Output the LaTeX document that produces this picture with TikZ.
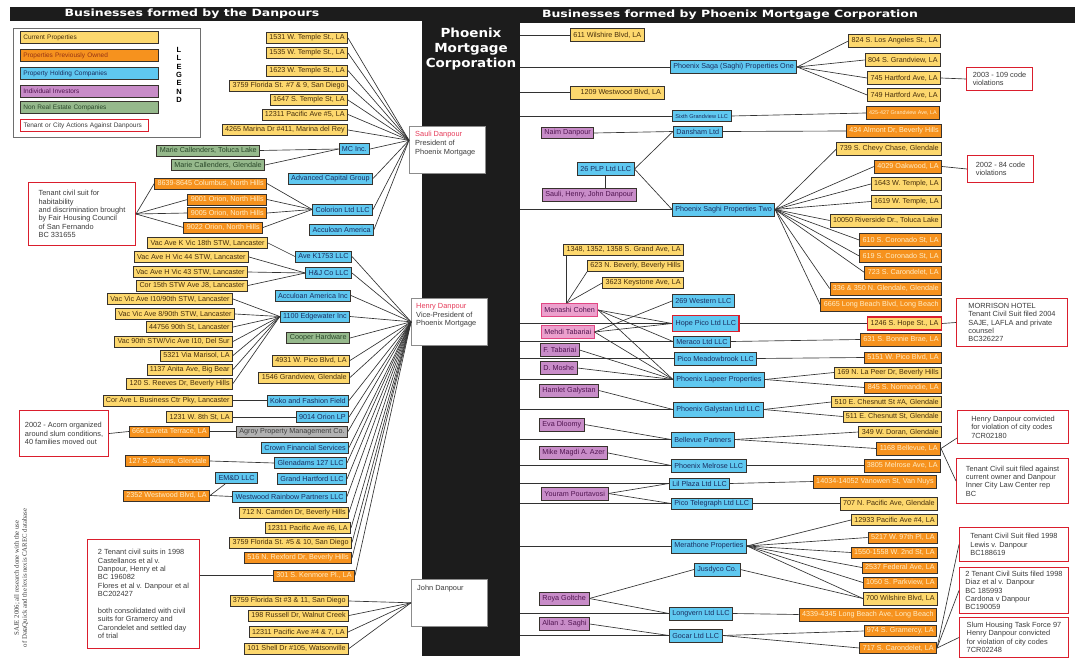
\documentclass[tikz,border=0pt]{standalone}
\usepackage{fontspec}
\setmainfont{Liberation Sans}
\newfontfamily\headfont{DejaVu Sans}[FakeStretch=1.25]
\newfontfamily\colfont{DejaVu Sans}[FakeStretch=1.08]
\newfontfamily\creditfont{Liberation Serif}
\usetikzlibrary{calc}

\definecolor{headblack}{RGB}{28,28,28}
\definecolor{curfill}{RGB}{253,216,110}
\definecolor{curtext}{RGB}{70,45,10}
\definecolor{prevfill}{RGB}{246,146,30}
\definecolor{prevtext}{RGB}{255,238,200}
\definecolor{holdfill}{RGB}{95,200,240}
\definecolor{holdtext}{RGB}{25,45,95}
\definecolor{invfill}{RGB}{200,140,200}
\definecolor{invtext}{RGB}{80,20,80}
\definecolor{pinkfill}{RGB}{236,160,205}
\definecolor{pinkline}{RGB}{225,70,130}
\definecolor{nonrefill}{RGB}{150,185,140}
\definecolor{nonretext}{RGB}{40,70,40}
\definecolor{grayfill}{RGB}{178,178,178}
\definecolor{graytext}{RGB}{60,60,60}
\definecolor{actred}{RGB}{218,30,45}
\definecolor{boxline}{RGB}{55,50,45}
\definecolor{linkgray}{RGB}{50,50,50}
\definecolor{notetext}{RGB}{60,60,60}
\definecolor{legendgray}{RGB}{110,110,110}
\definecolor{personline}{RGB}{140,140,140}
\definecolor{namered}{RGB}{230,60,90}
\definecolor{prevlegend}{RGB}{150,50,20}

\tikzset{
  box/.style={draw=boxline, line width=0.7pt, inner xsep=3pt, inner ysep=0pt,
    minimum height=11pt, font=\fontsize{7.2}{8}\selectfont},
  tall/.style={minimum height=13pt},
  cur/.style={box, fill=curfill, text=curtext},
  prev/.style={box, fill=prevfill, text=prevtext},
  hold/.style={box, fill=holdfill, text=holdtext},
  inv/.style={box, fill=invfill, text=invtext},
  invpink/.style={box, draw=pinkline, fill=pinkfill, text=invtext},
  nonre/.style={box, fill=nonrefill, text=nonretext},
  agency/.style={box, fill=grayfill, text=graytext},
  flagged/.style={draw=actred, line width=1.4pt},
  action/.style={draw=actred, line width=1pt, fill=white, text=notetext, align=left,
    anchor=north west, inner sep=0pt, font=\fontsize{7.4}{8.4}\selectfont},
  person/.style={draw=personline, line width=0.6pt, fill=white, anchor=north west,
    minimum width=76pt, minimum height=47pt, inner sep=0pt},
  persontext/.style={anchor=north west, align=left, text=notetext, inner sep=0pt,
    font=\fontsize{7.4}{8.8}\selectfont},
  link/.style={draw=linkgray, line width=0.65pt},
  pmcolumn/.style={fill=headblack, anchor=north west, minimum width=98pt,
    minimum height=649pt, inner sep=0pt},
  headtext/.style={text=white, inner sep=0pt, font={\headfont\bfseries\fontsize{10}{12}\selectfont}},
  pmctext/.style={text=white, align=center, inner sep=0pt, font={\colfont\bfseries\fontsize{12.5}{15}\selectfont}},
  legendframe/.style={draw=legendgray, line width=1pt, anchor=north west,
    minimum width=187pt, minimum height=109pt, inner sep=0pt},
  legendbox/.style={box, anchor=west, text width=132pt, align=left, minimum height=12pt,
    font=\fontsize{6.5}{8}\selectfont},
  legendletter/.style={inner sep=0pt, font=\bfseries\fontsize{7.5}{8}\selectfont},
  credit/.style={rotate=90, align=center, inner sep=0pt, text=notetext,
    font={\creditfont\fontsize{6.8}{8}\selectfont}},
}

\begin{document}
\begin{tikzpicture}[x=1pt,y=-1pt]
\useasboundingbox (0,0) rectangle (1078,658);
\fill[white] (0,0) rectangle (1078,658);

\fill[headblack] (10,7) rectangle (422,21);
\fill[headblack] (520,7) rectangle (1075,23);
\node[pmcolumn] (pmc) at (422,7) {};
\node[headtext] (lefthead) at (192,14) {Businesses formed by the Danpours};
\node[headtext] (righthead) at (730,15) {Businesses formed by Phoenix Mortgage Corporation};
\node[pmctext] (pmcname) at (471,49) {Phoenix\\Mortgage\\Corporation};

\node[legendframe] (legend) at (13,28) {};
\node[legendbox, fill=curfill, text=curtext] (lgcur) at (20,37.5) {Current Properties};
\node[legendbox, fill=prevfill, text=prevlegend] (lgprev) at (20,55.5) {Properties Previously Owned};
\node[legendbox, fill=holdfill, text=holdtext] (lghold) at (20,73.5) {Property Holding Companies};
\node[legendbox, fill=invfill, text=invtext] (lginv) at (20,91) {Individual Investors};
\node[legendbox, fill=nonrefill, text=nonretext] (lgnonre) at (20,107.5) {Non Real Estate Companies};
\node[legendbox, draw=actred, line width=1pt, fill=white, text=notetext, text width=122pt] (lgact) at (20,125.5) {Tenant or City Actions Against Danpours};
\foreach \ch [count=\i] in {L,L,E,G,E,N,D}
  \node[legendletter] (letter\i) at (179,{50+8.3*(\i-1)}) {\ch};

\node[credit] (source) at (21,578) {SAJE 2006; all research done with the use\\of DataQuick and the lexis nexis CAREC database};

\node[person] (saul) at (409,126) {};
\node[persontext] (saultext) at (415,131) {\textcolor{namered}{Sauli Danpour}\\President of\\Phoenix Mortgage};
\coordinate (saulin) at ([yshift=9.5pt]saul.west);
\node[person] (henry) at (411,298) {};
\node[persontext] (henrytext) at (416,303) {\textcolor{namered}{Henry Danpour}\\Vice-President of\\Phoenix Mortgage};
\node[person] (john) at (411,579) {};
\node[persontext] (johntext) at (417,585) {John Danpour};

\node[cur, anchor=east] (t1531) at (348,38) {1531 W. Temple St., LA};
\node[cur, anchor=east] (t1535) at (348,53) {1535 W. Temple St., LA};
\node[cur, anchor=east] (t1623) at (348,70.5) {1623 W. Temple St., LA};
\node[cur, anchor=east] (fl79) at (348,85.5) {3759 Florida St. \#7 \& 9, San Diego};
\node[cur, anchor=east] (t1647) at (348,100) {1647 S. Temple St, LA};
\node[cur, anchor=east] (pac5) at (348,114.5) {12311 Pacific Ave \#5, LA};
\node[cur, anchor=east] (marina) at (348,130) {4265 Marina Dr \#411, Marina del Rey};
\node[nonre, anchor=east] (mctol) at (260,150.5) {Marie Callenders, Toluca Lake};
\node[nonre, anchor=east] (mcgle) at (265,165) {Marie Callenders, Glendale};
\node[hold, anchor=east] (mcinc) at (370,149) {MC Inc.};
\node[hold, anchor=east] (acg) at (373,178.5) {Advanced Capital Group};
\node[prev, anchor=east] (col8639) at (267,183.5) {8639-8645 Columbus, North Hills};
\node[prev, anchor=east] (or9001) at (267,199.5) {9001 Orion, North Hills};
\node[prev, anchor=east] (or9005) at (267,213) {9005 Orion, North Hills};
\node[prev, anchor=east] (or9022) at (263,227.5) {9022 Orion, North Hills};
\node[hold, anchor=east] (colorion) at (373,209.5) {Colorion Ltd LLC};
\node[hold, anchor=east] (acc) at (374,229.5) {Acculoan America};
\node[action, minimum width=107pt, minimum height=63pt] (fhc) at (28,182) {Tenant civil suit for\\habitability\\and discrimination brought\\by Fair Housing Council\\of San Fernando\\BC 331655};

\node[cur, anchor=east] (vack) at (268,243) {Vac Ave K Vic 18th STW, Lancaster};
\node[cur, anchor=east] (vach44) at (249,257) {Vac Ave H Vic 44 STW, Lancaster};
\node[cur, anchor=east] (vach43) at (248,272) {Vac Ave H Vic 43 STW, Lancaster};
\node[cur, anchor=east] (cor15) at (248,285.5) {Cor 15th STW Ave J8, Lancaster};
\node[cur, anchor=east] (vic110) at (233,299) {Vac Vic Ave I10/90th STW, Lancaster};
\node[cur, anchor=east] (vic890) at (235,314) {Vac Vic Ave 8/90th STW, Lancaster};
\node[cur, anchor=east] (st44756) at (233,327) {44756 90th St, Lancaster};
\node[cur, anchor=east] (vac90) at (233,341.5) {Vac 90th STW/Vic Ave I10, Del Sur};
\node[cur, anchor=east] (marisol) at (233,355.5) {5321 Via Marisol, LA};
\node[cur, anchor=east] (anita) at (233,369.5) {1137 Anita Ave, Big Bear};
\node[cur, anchor=east] (reeves) at (233,383.5) {120 S. Reeves Dr, Beverly Hills};
\node[cur, anchor=east] (corl) at (233,400.5) {Cor Ave L Business Ctr Pky, Lancaster};
\node[cur, anchor=east] (w8th) at (233,417) {1231 W. 8th St, LA};
\node[prev, anchor=east] (laveta) at (210,431.5) {666 Laveta Terrace, LA};
\node[prev, anchor=east] (adams) at (210,461) {127 S. Adams, Glendale};
\node[hold, anchor=east] (emd) at (258,478) {EM\&D LLC};
\node[prev, anchor=east] (westwood) at (210,495.5) {2352 Westwood Blvd, LA};
\node[action, minimum width=89pt, minimum height=46pt] (acorn) at (19,410) {2002 - Acorn organized\\around slum conditions,\\40 families moved out};
\node[action, minimum width=112pt, minimum height=109pt] (suits) at (87,539) {2 Tenant civil suits in 1998\\Castellanos et al v.\\Danpour, Henry et al\\BC 196082\\Flores et al v. Danpour et al\\BC202427\\[8.4pt]both consolidated with civil\\suits for Gramercy and\\Carondelet and settled day\\of trial};

\node[hold, anchor=east] (avek) at (352,256.5) {Ave K1753 LLC};
\node[hold, anchor=east] (hj) at (352,273) {H\&J Co LLC};
\node[hold, anchor=east] (accinc) at (351,295.5) {Acculoan America Inc};
\node[hold, anchor=east] (edge) at (350,316.5) {1100 Edgewater Inc};
\node[nonre, anchor=east] (cooper) at (350,338) {Cooper Hardware};
\node[cur, anchor=east] (pico4931) at (350,360.5) {4931 W. Pico Blvd, LA};
\node[cur, anchor=east] (grand1546) at (350,377.5) {1546 Grandview, Glendale};
\node[hold, anchor=east] (koko) at (349,400.5) {Koko and Fashion Field};
\node[hold, anchor=east] (orion9014) at (349,417) {9014 Orion LP};
\node[agency, anchor=east] (agroy) at (348,431.5) {Agroy Property Management Co.};
\node[hold, anchor=east] (crown) at (349,447.5) {Crown Financial Services};
\node[hold, anchor=east] (glen127) at (347,463) {Glenadams 127 LLC};
\node[hold, anchor=east] (grandh) at (347,479) {Grand Hartford LLC};
\node[hold, anchor=east] (wrp) at (347,496.5) {Westwood Rainbow Partners LLC};
\node[cur, anchor=east] (camden) at (349,512.5) {712 N. Camden Dr, Beverly Hills};
\node[cur, anchor=east] (pac6) at (351,528) {12311 Pacific Ave \#6, LA};
\node[cur, anchor=east] (fl510) at (352,542.5) {3759 Florida St. \#5 \& 10, San Diego};
\node[prev, anchor=east] (rexford) at (352,558) {516 N. Rexford Dr, Beverly Hills};
\node[prev, anchor=east] (kenmore) at (355,575.5) {301 S. Kenmore Pl., LA};

\node[cur, anchor=east] (fl311) at (349,601) {3759 Florida St \#3 \& 11, San Diego};
\node[cur, anchor=east] (russell) at (349,615.5) {198 Russell Dr, Walnut Creek};
\node[cur, anchor=east] (pac47) at (348,632) {12311 Pacific Ave \#4 \& 7, LA};
\node[cur, anchor=east] (shell) at (349,648.5) {101 Shell Dr \#105, Watsonville};

\node[cur, tall, anchor=west] (w611) at (570,35) {611 Wilshire Blvd, LA};
\node[hold, tall, anchor=west] (sage1) at (670,67) {Phoenix Saga (Saghi) Properties One};
\node[cur, tall, anchor=west] (ww1209) at (570,92.5) {\quad 1209 Westwood Blvd, LA};
\node[hold, anchor=west, font=\fontsize{5.6}{6}\selectfont] (sixth) at (672,116) {Sixth Grandview LLC};
\node[inv, anchor=west] (naim) at (541,133) {Naim Danpour};
\node[hold, anchor=west] (dansham) at (673,131.5) {Dansham Ltd};
\node[hold, tall, anchor=west] (plp26) at (577,169) {26 PLP Ltd LLC};
\node[inv, tall, anchor=west] (shj) at (542,195) {Sauli, Henry, John Danpour};
\node[hold, tall, anchor=west] (saghi2) at (672,209.5) {Phoenix Saghi Properties Two};

\node[cur, tall, anchor=east] (la824) at (941,41) {824 S. Los Angeles St., LA};
\node[cur, tall, anchor=east] (gv804) at (941,60) {804 S. Grandview, LA};
\node[cur, tall, anchor=east] (hf745) at (941,78) {745 Hartford Ave, LA};
\node[cur, tall, anchor=east] (hf749) at (941,95) {749 Hartford Ave, LA};
\node[prev, tall, anchor=east, font=\fontsize{5.4}{6}\selectfont] (gv425) at (940,113) {425-427 Grandview Ave, LA};
\node[prev, tall, anchor=east] (almont) at (942,131) {434 Almont Dr, Beverly Hills};
\node[cur, tall, anchor=east] (chevy) at (942,149) {739 S. Chevy Chase, Glendale};
\node[prev, tall, anchor=east] (oak) at (942,166.5) {4029 Oakwood, LA};
\node[cur, tall, anchor=east] (t1643) at (942,184) {1643 W. Temple, LA};
\node[cur, tall, anchor=east] (t1619) at (942,201.5) {1619 W. Temple, LA};
\node[cur, tall, anchor=east] (river) at (942,220.5) {10050 Riverside Dr., Toluca Lake};
\node[prev, tall, anchor=east] (cor610) at (942,240) {610 S. Coronado St, LA};
\node[prev, tall, anchor=east] (cor619) at (942,256) {619 S. Coronado St, LA};
\node[prev, tall, anchor=east] (car723) at (942,272.5) {723 S. Carondelet, LA};
\node[prev, tall, anchor=east] (gle336) at (942,288.5) {336 \& 350 N. Glendale, Glendale};
\node[prev, tall, anchor=east] (lb6665) at (942,305) {6665 Long Beach Blvd, Long Beach};
\node[action, minimum width=66pt, minimum height=23pt] (viol109) at (966,67) {2003 - 109 code\\violations};
\node[action, minimum width=66pt, minimum height=27pt] (viol84) at (967,155) {2002 - 84 code\\violations};

\node[cur, anchor=east] (grand1348) at (684,249.5) {1348, 1352, 1358 S. Grand Ave, LA};
\node[cur, anchor=east] (bev623) at (684,266) {623 N. Beverly, Beverly Hills};
\node[cur, anchor=east] (key3623) at (684,283) {3623 Keystone Ave, LA};
\node[invpink, tall, anchor=west] (menashi) at (541,310) {Menashi Cohen};
\node[invpink, tall, anchor=west] (mehdi) at (541,332) {Mehdi Tabariai};
\node[inv, tall, anchor=west] (ftab) at (540,350) {F. Tabariai};
\node[inv, tall, anchor=west] (dmoshe) at (540,368) {D. Moshe};
\node[inv, tall, anchor=west] (hamlet) at (539,390.5) {Hamlet Galystan};
\node[inv, tall, anchor=west] (eva) at (539,424.5) {Eva Dloomy};
\node[inv, tall, anchor=west] (mike) at (539,453) {Mike Magdi A. Azer};
\node[inv, tall, anchor=west] (youram) at (541,493.5) {Youram Pourtavosi};
\node[inv, tall, anchor=west] (roya) at (539,598.5) {Roya Goltche};
\node[inv, tall, anchor=west] (allan) at (539,624) {Allan J. Saghi};

\node[hold, tall, anchor=west] (western) at (672,301) {269 Western LLC};
\node[hold, tall, flagged, minimum height=16pt, anchor=west] (hopepico) at (672,323.5) {Hope Pico Ltd LLC};
\node[hold, anchor=west] (meraco) at (673,341.5) {Meraco Ltd LLC};
\node[hold, tall, anchor=west] (meadow) at (674,358.5) {Pico Meadowbrook LLC};
\node[hold, tall, minimum height=15pt, anchor=west] (lapeer) at (673,379.5) {Phoenix Lapeer Properties};
\node[hold, tall, minimum height=15pt, anchor=west] (galystan) at (673,409.5) {Phoenix Galystan Ltd LLC};
\node[hold, tall, minimum height=15pt, anchor=west] (bellevue) at (671,439.5) {Bellevue Partners};
\node[hold, tall, anchor=west] (melrose) at (671,465.5) {Phoenix Melrose LLC};
\node[hold, anchor=west] (lilplaza) at (669,483.5) {Lil Plaza Ltd LLC};
\node[hold, anchor=west] (telegraph) at (671,503.5) {Pico Telegraph Ltd LLC};
\node[hold, tall, minimum height=14pt, anchor=west] (merathone) at (671,546) {Merathone Properties};
\node[hold, tall, anchor=west] (jusdyco) at (694,569.5) {Jusdyco Co.};
\node[hold, tall, anchor=west] (longvern) at (669,613.5) {Longvern Ltd LLC};
\node[hold, tall, anchor=west] (gocar) at (669,635.5) {Gocar Ltd LLC};

\node[cur, tall, flagged, anchor=east] (hope1246) at (942,323.5) {1246 S. Hope St., LA};
\node[prev, tall, anchor=east] (bonnie) at (942,339.5) {631 S. Bonnie Brae, LA};
\node[prev, anchor=east] (pico5151) at (942,357.5) {5151 W. Pico Blvd, LA};
\node[cur, anchor=east] (lapeer169) at (942,372.5) {169 N. La Peer Dr, Beverly Hills};
\node[prev, anchor=east] (norm845) at (942,387.5) {845 S. Normandie, LA};
\node[cur, anchor=east] (ches510) at (942,402) {510 E. Chesnutt St \#A, Glendale};
\node[cur, anchor=east] (ches511) at (942,416.5) {511 E. Chesnutt St, Glendale};
\node[cur, anchor=east] (doran) at (942,432) {349 W. Doran, Glendale};
\node[prev, tall, anchor=east] (bel1168) at (941,448.5) {1168 Bellevue, LA};
\node[prev, tall, anchor=east] (mel3805) at (941,465.5) {3805 Melrose Ave, LA};
\node[prev, tall, anchor=east] (van) at (937,481.5) {14034-14052 Vanowen St, Van Nuys};
\node[cur, tall, anchor=east] (pac707) at (938,503.5) {707 N. Pacific Ave, Glendale};
\node[cur, anchor=east] (pac12933) at (938,520) {12933 Pacific Ave \#4, LA};
\node[prev, anchor=east] (pl5217) at (938,537.5) {5217 W. 97th Pl, LA};
\node[prev, anchor=east] (st1550) at (938,552.5) {1550-1558 W. 2nd St, LA};
\node[prev, anchor=east] (fed2537) at (938,567.5) {2537 Federal Ave, LA};
\node[prev, anchor=east] (park1050) at (938,582.5) {1050 S. Parkview, LA};
\node[cur, tall, anchor=east] (wil700) at (938,598.5) {700 Wilshire Blvd, LA};
\node[prev, tall, anchor=east] (lb4339) at (937,614.5) {4339-4345 Long Beach Ave, Long Beach};
\node[prev, anchor=east] (gram974) at (937,631) {974 S. Gramercy, LA};
\node[prev, anchor=east] (car717) at (937,648) {717 S. Carondelet, LA};

\node[action, minimum width=111pt, minimum height=48pt] (morrison) at (956,298) {MORRISON HOTEL\\Tenant Civil Suit filed 2004\\SAJE, LAFLA and private\\counsel\\BC326227};
\node[action, minimum width=111pt, minimum height=33pt] (conv180) at (957,410) {Henry Danpour convicted\\for violation of city codes\\7CR02180};
\node[action, minimum width=112pt, minimum height=45pt] (icl) at (956,458) {Tenant Civil suit filed against\\current owner and Danpour\\Inner City Law Center rep\\BC};
\node[action, minimum width=109pt, minimum height=34pt] (lewis) at (959,527) {Tenant Civil Suit filed 1998\\Lewis v. Danpour\\BC188619};
\node[action, minimum width=109pt, minimum height=46pt] (diaz) at (959,567) {2 Tenant Civil Suits filed 1998\\Diaz et al v. Danpour\\BC 185993\\Cardona v Danpour\\BC190059};
\node[action, minimum width=109pt, minimum height=40pt] (slum) at (959,617) {Slum Housing Task Force 97\\Henry Danpour convicted\\for violation of city codes\\7CR02248};

\foreach \n in {t1531,t1535,t1623,fl79,t1647,pac5,marina,mcinc,acg,colorion,acc}
  \draw[link] (\n.east) -- (saulin);
\draw[link] (mctol.east) -- (mcinc.west);
\draw[link] (mcgle.east) -- (mcinc.west);
\foreach \n in {col8639,or9001,or9005,or9022} {
  \draw[link] (fhc.east) -- (\n.west);
  \draw[link] (\n.east) -- (colorion.west);
}

\draw[link] (vack.east) -- (avek.west);
\foreach \n in {vach44,vach43,cor15}
  \draw[link] (\n.east) -- (hj.west);
\foreach \n in {vic110,vic890,st44756,vac90,marisol,anita,reeves}
  \draw[link] (\n.east) -- (edge.west);
\draw[link] (corl.east) -- (koko.west);
\draw[link] (w8th.east) -- (orion9014.west);
\draw[link] (acorn.east) -- (laveta.west);
\draw[link] (laveta.east) -- (agroy.west);
\draw[link] (adams.east) -- (glen127.west);
\draw[link] (westwood.east) -- ([xshift=10pt]emd.south west);
\draw[link] (westwood.east) -- (wrp.west);
\foreach \n in {avek,hj,accinc,edge,cooper,pico4931,grand1546,koko,orion9014,agroy,crown,glen127,grandh,wrp,camden,pac6,fl510,rexford,kenmore}
  \draw[link] (\n.east) -- (henry.west);
\draw[link] (suits.east |- kenmore.west) -- (kenmore.west);
\foreach \n in {fl311,russell,pac47,shell}
  \draw[link] (\n.east) -- (john.west);

\foreach \n in {w611,sage1,ww1209,sixth,saghi2,hopepico,meraco,meadow,lapeer,galystan,bellevue,melrose,lilplaza,telegraph,merathone,longvern,gocar}
  \draw[link] (pmc.east |- \n.west) -- (\n.west);
\foreach \n in {la824,gv804,hf745,hf749}
  \draw[link] (sage1.east) -- (\n.west);
\draw[link] (hf745.east) -- (viol109.west);
\draw[link] (sixth.east) -- (gv425.west);
\draw[link] (naim.east) -- (dansham.west);
\draw[link] (dansham.east) -- (almont.west);
\draw[link] (plp26.east) -- (dansham.west);
\draw[link] (plp26.east) -- (saghi2.west);
\draw[link] (plp26.south) -- (plp26.south |- shj.north);
\foreach \n in {chevy,oak,t1643,t1619,river,cor610,cor619,car723,gle336,lb6665}
  \draw[link] (saghi2.east) -- (\n.west);
\draw[link] (oak.east) -- (viol84.west);

\coordinate (mtop) at ([xshift=-3pt]menashi.north);
\draw[link] (mtop) -- (mtop |- grand1348.south);
\draw[link] (mtop) -- (bev623.south west);
\draw[link] (mtop) -- (key3623.west);
\foreach \n in {hopepico,meraco,lapeer}
  \draw[link] (menashi.east) -- (\n.west);
\foreach \n in {western,hopepico,lapeer}
  \draw[link] (mehdi.east) -- (\n.west);
\draw[link] (ftab.east) -- (lapeer.west);
\draw[link] (dmoshe.east) -- (lapeer.west);
\draw[link] (hamlet.east) -- (galystan.west);
\draw[link] (eva.east) -- (bellevue.west);
\draw[link] (hopepico.east) -- (hope1246.west);
\draw[link] (hope1246.east) -- (morrison.west);
\draw[link] (meraco.east) -- (bonnie.west);
\draw[link] (meadow.east) -- (pico5151.west);
\foreach \n in {lapeer169,norm845}
  \draw[link] (lapeer.east) -- (\n.west);
\foreach \n in {ches510,ches511}
  \draw[link] (galystan.east) -- (\n.west);
\foreach \n in {doran,bel1168}
  \draw[link] (bellevue.east) -- (\n.west);
\draw[link] (bel1168.east) -- ([yshift=6pt]conv180.south west);
\draw[link] (bel1168.east) -- (icl.west);
\draw[link] (mike.east) -- (melrose.west);
\draw[link] (melrose.east) -- (mel3805.west);
\foreach \n in {lilplaza,telegraph}
  \draw[link] (youram.east) -- (\n.west);
\draw[link] (lilplaza.east) -- (van.west);
\draw[link] (telegraph.east) -- (pac707.west);
\foreach \n in {pac12933,pl5217,st1550,fed2537,park1050,wil700}
  \draw[link] (merathone.east) -- (\n.west);
\draw[link] (jusdyco.east) -- (wil700.west);
\foreach \n in {jusdyco,longvern}
  \draw[link] (roya.east) -- (\n.west);
\draw[link] (longvern.east) -- (lb4339.west);
\draw[link] (allan.east) -- (gocar.west);
\foreach \n in {gram974,car717}
  \draw[link] (gocar.east) -- (\n.west);
\foreach \n in {lewis,diaz,slum}
  \draw[link] (car717.east) -- (\n.west);
\end{tikzpicture}
\end{document}
